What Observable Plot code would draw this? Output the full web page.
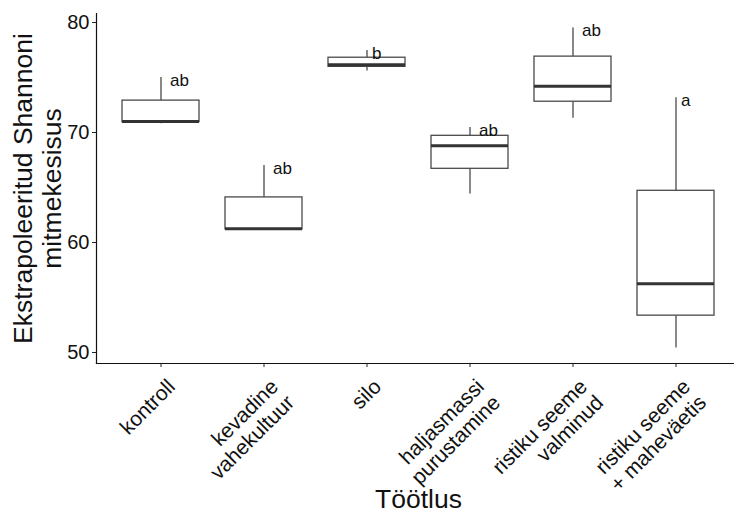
<!DOCTYPE html>
<html>
<head>
<meta charset="utf-8">
<script src="https://cdn.jsdelivr.net/npm/d3@7"></script>
<script src="https://cdn.jsdelivr.net/npm/@observablehq/plot@0.6"></script>
<style>
  html, body { margin: 0; padding: 0; background: #fff; overflow: hidden; }
  #chart { width: 734px; height: 512px; overflow: hidden; }
</style>
</head>
<body>
<div id="chart"></div>
<script>
// Treatments (x categories, tick labels)
const treatments = [
  "kontroll",
  "kevadine\nvahekultuur",
  "silo",
  "haljasmassi\npurustamine",
  "ristiku seeme\nvalminud",
  "ristiku seeme\n+ maheväetis"
];
// Box-plot statistics
const whiskerLow  = [70.8, 61.15, 75.6, 64.4, 71.3, 50.4];
const q1          = [70.95, 61.2, 75.97, 66.7, 72.8, 53.35];
const median      = [71.0, 61.25, 76.15, 68.8, 74.2, 56.25];
const q3          = [72.9, 64.1, 76.8, 69.7, 76.9, 64.7];
const whiskerHigh = [75.0, 67.0, 77.45, 70.45, 79.5, 73.15];
// Significance letters
const letters = ["ab", "ab", "b", "ab", "ab", "a"];
// Y axis ticks
const yTicks = [50, 60, 70, 80];

const yTitle = "Ekstrapoleeritud Shannoni\nmitmekesisus";
const xTitle = "Töötlus";

const data = treatments.map((t, i) => ({
  t, lo: whiskerLow[i], q1: q1[i], med: median[i], q3: q3[i], hi: whiskerHigh[i], letter: letters[i]
}));

const boxStroke = "#4a4a4a";
const font = "'Liberation Sans', Arial, Helvetica, sans-serif";

const chart = Plot.plot({
  width: 734,
  height: 512,
  marginLeft: 96,
  marginRight: -6,
  marginTop: 13,
  marginBottom: 149,
  style: { fontFamily: font, background: "#fff", color: "#111", overflow: "visible" },
  x: { type: "band", domain: treatments, paddingInner: 0.25, paddingOuter: 0.225, align: 0.5 },
  y: { domain: [49.0, 80.82] },
  marks: [
    // whiskers
    Plot.ruleX(data, { x: "t", y1: "lo", y2: "q1", stroke: boxStroke, strokeWidth: 1.3 }),
    Plot.ruleX(data, { x: "t", y1: "q3", y2: "hi", stroke: boxStroke, strokeWidth: 1.3 }),
    // boxes
    Plot.barY(data, { x: "t", y1: "q1", y2: "q3", fill: "#fff", stroke: boxStroke, strokeWidth: 1.3 }),
    // medians
    Plot.tickY(data, { x: "t", y: "med", stroke: "#333", strokeWidth: 3 }),
    // letters
    Plot.text(data, { filter: d => d.letter.length > 1, x: "t", y: "hi", text: "letter", textAnchor: "start", lineAnchor: "middle", dx: 9, dy: 3, fontSize: 17, fill: "#111" }),
    Plot.text(data, { filter: d => d.letter.length === 1, x: "t", y: "hi", text: "letter", textAnchor: "start", lineAnchor: "middle", dx: 5, dy: 3, fontSize: 17, fill: "#111" }),
    // axes
    Plot.axisY({ ticks: yTicks, tickSize: 4, tickPadding: 3, fontSize: 20, label: null, stroke: "#222", fill: "#111" }),
    Plot.axisX({ tickSize: 4, tickFormat: () => "", label: null, stroke: "#222" }),
    Plot.frame({ anchor: "left", stroke: "#111", strokeWidth: 1.2 }),
    Plot.frame({ anchor: "bottom", stroke: "#111", strokeWidth: 1.2 }),
    // x tick labels (rotated)
    Plot.text(treatments, { x: d => d, text: d => d, frameAnchor: "bottom", rotate: -45, textAnchor: "end", lineAnchor: "top", dx: 4, dy: 13, fontSize: 21, lineHeight: 1.08, fill: "#111" }),
    // axis titles
    Plot.text([yTitle], { text: d => d, frameAnchor: "left", rotate: -90, dx: -59, fontSize: 26.5, lineHeight: 1.08, textAnchor: "middle", lineAnchor: "middle", fill: "#111" }),
    Plot.text([xTitle], { text: d => d, frameAnchor: "bottom", dy: 144, fontSize: 26.5, lineAnchor: "bottom", fill: "#111" })
  ]
});

document.getElementById("chart").appendChild(chart);
</script>
</body>
</html>
